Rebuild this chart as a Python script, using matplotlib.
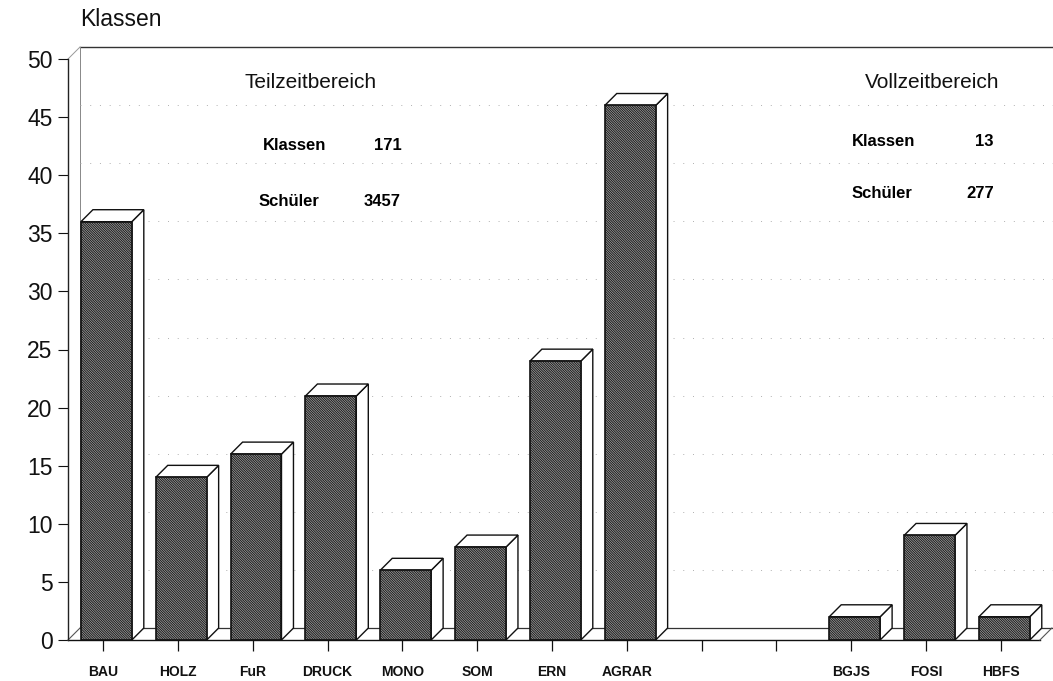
import numpy as np
import matplotlib
matplotlib.use("Agg")
import matplotlib.pyplot as plt
from matplotlib.patches import Polygon, Rectangle

# ---- data ----
categories = ["BAU", "HOLZ", "FuR", "DRUCK", "MONO", "SOM", "ERN", "AGRAR", "", "", "BGJS", "FOSI", "HBFS"]
values = [36, 14, 16, 21, 6, 8, 24, 46, np.nan, np.nan, 2, 9, 2]
y_ticks = [0, 5, 10, 15, 20, 25, 30, 35, 40, 45, 50]
title_text = "Klassen"
teil_title = "Teilzeitbereich"
teil_klassen = ("Klassen", "171")
teil_schueler = ("Schüler", "3457")
voll_title = "Vollzeitbereich"
voll_klassen = ("Klassen", "13")
voll_schueler = ("Schüler", "277")

plt.rcParams['font.family'] = ['Liberation Sans', 'DejaVu Sans']
plt.rcParams['hatch.color'] = '#303030'
plt.rcParams['hatch.linewidth'] = 0.6

W, H = 1053, 681
fig = plt.figure(figsize=(W / 100, H / 100), dpi=100)
fig.patch.set_facecolor("white")

def fx(px):
    return px / W

def fy(py):
    return 1 - py / H

ax = fig.add_axes([fx(68), fy(640), (W - 68) / W, (640 - 59) / H])
ax.set_facecolor("none")
x = np.arange(len(categories))
xl, xr = -0.468, 12.695
ax.set_xlim(xl, xr)
ax.set_ylim(0, 50)

dx, dy = 0.160, 1.03      # 3D depth offset (style)
bw, boff = 0.68, 0.295    # bar width / left offset from tick

# back wall
ax.plot([xl + dx, xr + 0.2], [50 + dy, 50 + dy], color="#333333", lw=1.0, clip_on=False, zorder=1)
ax.plot([xl + dx, xl + dx], [dy, 50 + dy], color="#888888", lw=0.7, clip_on=False, zorder=1)
ax.plot([xl, xl + dx], [50, 50 + dy], color="#999999", lw=0.7, clip_on=False, zorder=1)
for t in y_ticks[1:-1]:
    ax.plot([xl + dx, xr], [t + dy, t + dy], color="#b0b0b0", lw=0.7,
            linestyle=(0, (1, 9)), clip_on=False, zorder=1)

# floor
x_floor_end = 12.52
ax.plot([xl, x_floor_end], [0, 0], color="#111111", lw=1.0, clip_on=False, zorder=2)
ax.plot([xl + dx, x_floor_end + dx], [dy, dy], color="#333333", lw=0.9, clip_on=False, zorder=2)
ax.plot([xl, xl + dx], [0, dy], color="#555555", lw=0.8, clip_on=False, zorder=2)
ax.plot([x_floor_end, x_floor_end + dx], [0, dy], color="#555555", lw=0.8, clip_on=False, zorder=2)

# bars
for xi, v in zip(x, values):
    if np.isnan(v):
        continue
    x0 = xi - boff
    x1 = x0 + bw
    side = Polygon([[x1, 0], [x1 + dx, dy], [x1 + dx, v + dy], [x1, v]], closed=True,
                   facecolor="white", edgecolor="#111111", lw=1.0, zorder=3, clip_on=False)
    top = Polygon([[x0, v], [x0 + dx, v + dy], [x1 + dx, v + dy], [x1, v]], closed=True,
                  facecolor="white", edgecolor="#111111", lw=1.0, zorder=3, clip_on=False)
    front = Rectangle((x0, 0), bw, v, facecolor="#9a9a9a", edgecolor="#111111",
                      hatch="\\" * 14, lw=1.2, zorder=4, clip_on=False)
    ax.add_patch(side)
    ax.add_patch(top)
    ax.add_patch(front)

# axes styling
for s in ["top", "right", "bottom"]:
    ax.spines[s].set_visible(False)
ax.spines["left"].set_color("#222222")
ax.spines["left"].set_linewidth(1.0)
ax.set_yticks(y_ticks)
ax.set_yticklabels([str(t) for t in y_ticks], fontsize=16.5)
ax.tick_params(axis="y", length=7, width=0.8, pad=4, colors="#111111")
ax.set_xticks(x)
ax.set_xticklabels(categories, fontsize=10, fontweight="bold")
ax.tick_params(axis="x", length=8, width=0.9, pad=10, colors="#111111")

# texts
fig.text(fx(80), fy(19), title_text, fontsize=16.5, ha="left", va="center", color="#111111")

fig.text(fx(311), fy(83), teil_title, fontsize=15, ha="center", va="center", color="#111111")
fig.text(fx(263), fy(146), teil_klassen[0], fontsize=12, fontweight="bold", ha="left", va="center")
fig.text(fx(402), fy(146), teil_klassen[1], fontsize=12, fontweight="bold", ha="right", va="center")
fig.text(fx(259), fy(201), teil_schueler[0], fontsize=12, fontweight="bold", ha="left", va="center")
fig.text(fx(401), fy(201), teil_schueler[1], fontsize=12, fontweight="bold", ha="right", va="center")

fig.text(fx(932), fy(83), voll_title, fontsize=15, ha="center", va="center", color="#111111")
fig.text(fx(852), fy(141), voll_klassen[0], fontsize=12, fontweight="bold", ha="left", va="center")
fig.text(fx(993), fy(141), voll_klassen[1], fontsize=12, fontweight="bold", ha="right", va="center")
fig.text(fx(852), fy(194), voll_schueler[0], fontsize=12, fontweight="bold", ha="left", va="center")
fig.text(fx(994), fy(194), voll_schueler[1], fontsize=12, fontweight="bold", ha="right", va="center")

fig.savefig("out.png", dpi=100, facecolor="white")
